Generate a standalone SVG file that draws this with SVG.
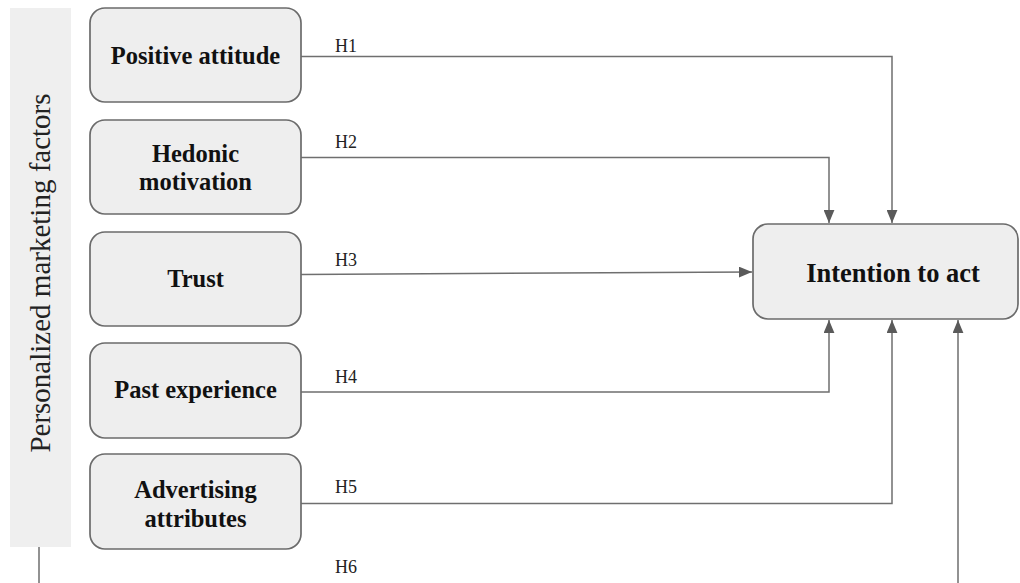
<svg xmlns="http://www.w3.org/2000/svg" width="1020" height="583" viewBox="0 0 1020 583">
<style>
.box{fill:#eeeeee;stroke:#6b6b6b;stroke-width:1.7}
.nt{font-family:"Liberation Serif","Times New Roman",serif;font-weight:bold;font-size:24.5px;fill:#111;text-anchor:middle}
.big{font-size:26.5px}
.lbl{font-family:"Liberation Serif","Times New Roman",serif;font-size:18px;fill:#222}
.con{fill:none;stroke:#6f6f6f;stroke-width:1.5}
</style>
<defs>
<marker id="arr" viewBox="0 0 12 10" refX="12" refY="5" markerWidth="13" markerHeight="11" markerUnits="userSpaceOnUse" orient="auto">
<path d="M0,0 L12,5 L0,10 Z" fill="#5a5a5a"/>
</marker>
</defs>
<rect width="1020" height="583" fill="#ffffff"/>
<g id="band">
<rect x="10" y="8" width="61" height="539" fill="#efefef"/>
<text transform="translate(50,273) rotate(-90)" text-anchor="middle" font-family="Liberation Serif, Times New Roman, serif" font-size="29" fill="#222">Personalized marketing factors</text>
</g>
<g id="connectors">
<path class="con" d="M301,56.5 H892 V223" marker-end="url(#arr)"/>
<path class="con" d="M301,157.5 H829 V223" marker-end="url(#arr)"/>
<path class="con" d="M301,274.5 L752,272" marker-end="url(#arr)"/>
<path class="con" d="M301,392 H829 V320" marker-end="url(#arr)"/>
<path class="con" d="M301,503.5 H892 V320" marker-end="url(#arr)"/>
<path class="con" d="M39,547 V600 H958 V320" marker-end="url(#arr)"/>
<text class="lbl" x="335" y="52">H1</text>
<text class="lbl" x="335" y="148">H2</text>
<text class="lbl" x="335" y="266">H3</text>
<text class="lbl" x="335" y="383">H4</text>
<text class="lbl" x="335" y="493">H5</text>
<text class="lbl" x="335" y="573">H6</text>
</g>
<g id="positive-attitude">
<rect class="box" x="90" y="8" width="211" height="94" rx="15"/>
<text class="nt" x="195.5" y="64">Positive attitude</text>
</g>
<g id="hedonic-motivation">
<rect class="box" x="90" y="120" width="211" height="94" rx="15"/>
<text class="nt" x="195.5" y="162">Hedonic</text>
<text class="nt" x="195.5" y="190">motivation</text>
</g>
<g id="trust">
<rect class="box" x="90" y="232" width="211" height="94" rx="15"/>
<text class="nt" x="195.5" y="287">Trust</text>
</g>
<g id="past-experience">
<rect class="box" x="90" y="343" width="211" height="95" rx="15"/>
<text class="nt" x="195.5" y="398">Past experience</text>
</g>
<g id="advertising-attributes">
<rect class="box" x="90" y="454" width="211" height="95" rx="15"/>
<text class="nt" x="195.5" y="498">Advertising</text>
<text class="nt" x="195.5" y="527">attributes</text>
</g>
<g id="intention-to-act">
<rect class="box" x="753" y="224" width="265" height="95" rx="15"/>
<text class="nt big" x="893" y="282">Intention to act</text>
</g>
</svg>
